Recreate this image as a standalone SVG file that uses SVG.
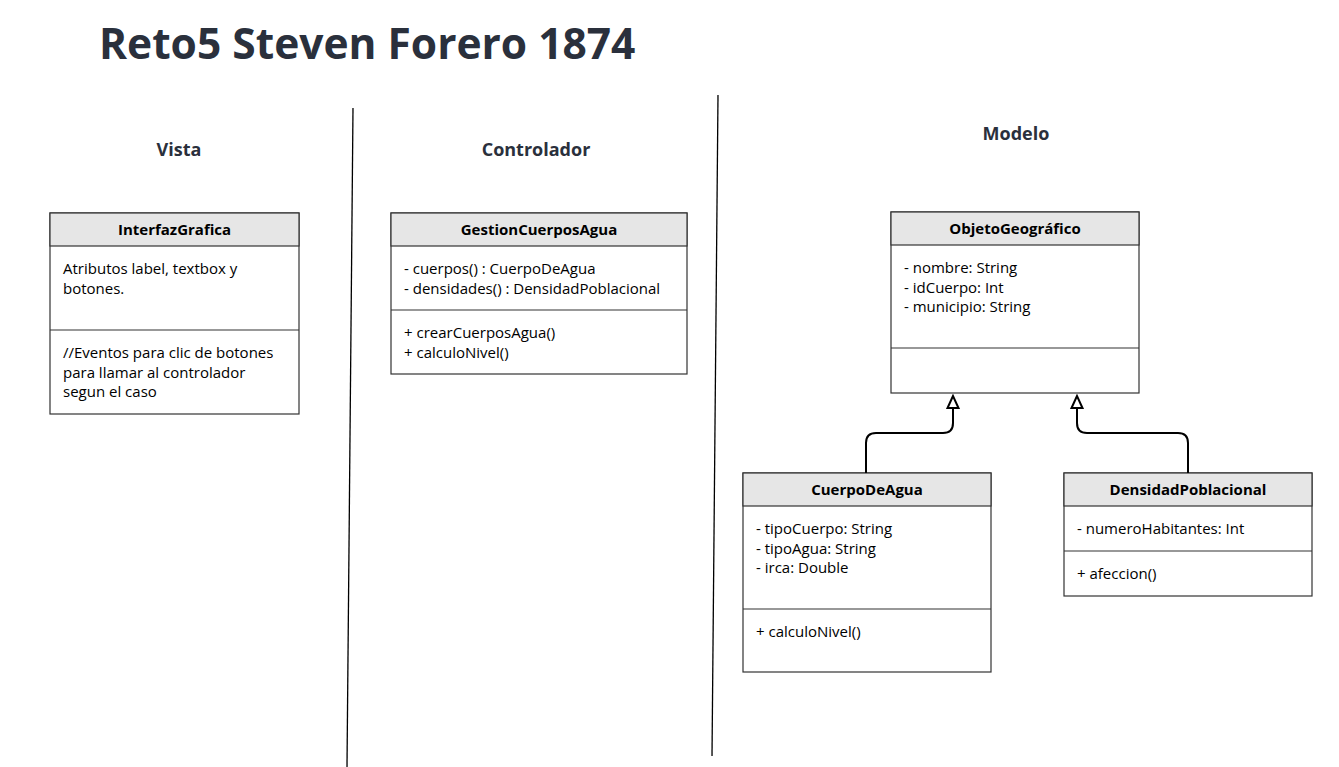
<svg xmlns="http://www.w3.org/2000/svg" width="1339" height="767" viewBox="0 0 1339 767">
<defs>
<style>
.box{fill:#ffffff;stroke:#333333;stroke-width:1.2}
.hdr{fill:#e6e6e6;stroke:#333333;stroke-width:1.2}
.div{stroke:#333333;stroke-width:1.2}
.h{font-family:"Open Sans","Liberation Sans",sans-serif;font-size:15px;font-weight:bold;fill:#000000;text-anchor:middle}
.t{font-family:"Open Sans","Liberation Sans",sans-serif;font-size:15px;fill:#000000}
.sec{font-family:"Open Sans","Liberation Sans",sans-serif;font-size:18px;font-weight:bold;fill:#2a303c;text-anchor:middle}
.title{font-family:"Open Sans","Liberation Sans",sans-serif;font-size:42.5px;font-weight:bold;fill:#2a303c}
.sep{stroke:#000000;stroke-width:1.3}
.conn{fill:none;stroke:#000000;stroke-width:2}
</style>
<marker id="inh" markerWidth="16" markerHeight="16" viewBox="0 0 16 16" refX="14" refY="8" orient="auto" markerUnits="userSpaceOnUse">
<path d="M14,8 L2,2.5 L2,13.5 Z" fill="#ffffff" stroke="#000000" stroke-width="2"/>
</marker>
</defs>
<rect width="1339" height="767" fill="#ffffff"/>
<text class="title" x="99" y="59">Reto5 Steven Forero 1874</text>
<line class="sep" x1="353" y1="108" x2="347" y2="767"/>
<line class="sep" x1="718" y1="95" x2="712" y2="756"/>
<text class="sec" x="179" y="156">Vista</text>
<text class="sec" x="536" y="156">Controlador</text>
<text class="sec" x="1016" y="140">Modelo</text>

<g id="InterfazGrafica">
<rect class="box" x="50" y="213" width="249" height="201"/>
<rect class="hdr" x="50" y="213" width="249" height="33"/>
<line class="div" x1="50" y1="330" x2="299" y2="330"/>
<text class="h" x="174.5" y="235">InterfazGrafica</text>
<text class="t" x="63" y="274">Atributos label, textbox y</text>
<text class="t" x="63" y="294">botones.</text>
<text class="t" x="63" y="358">//Eventos para clic de botones</text>
<text class="t" x="63" y="378">para llamar al controlador</text>
<text class="t" x="63" y="397">segun el caso</text>
</g>

<g id="GestionCuerposAgua">
<rect class="box" x="391" y="213" width="296" height="161"/>
<rect class="hdr" x="391" y="213" width="296" height="33"/>
<line class="div" x1="391" y1="310" x2="687" y2="310"/>
<text class="h" x="539" y="235">GestionCuerposAgua</text>
<text class="t" x="404" y="274">- cuerpos() : CuerpoDeAgua</text>
<text class="t" x="404" y="294">- densidades() : DensidadPoblacional</text>
<text class="t" x="404" y="338">+ crearCuerposAgua()</text>
<text class="t" x="404" y="358">+ calculoNivel()</text>
</g>

<g id="ObjetoGeografico">
<rect class="box" x="891" y="212" width="248" height="181"/>
<rect class="hdr" x="891" y="212" width="248" height="33"/>
<line class="div" x1="891" y1="348" x2="1139" y2="348"/>
<text class="h" x="1015" y="234">ObjetoGeográfico</text>
<text class="t" x="904" y="273">- nombre: String</text>
<text class="t" x="904" y="293">- idCuerpo: Int</text>
<text class="t" x="904" y="312">- municipio: String</text>
</g>

<g id="CuerpoDeAgua">
<rect class="box" x="743" y="473" width="248" height="199"/>
<rect class="hdr" x="743" y="473" width="248" height="33"/>
<line class="div" x1="743" y1="609" x2="991" y2="609"/>
<text class="h" x="867" y="495">CuerpoDeAgua</text>
<text class="t" x="756" y="534">- tipoCuerpo: String</text>
<text class="t" x="756" y="554">- tipoAgua: String</text>
<text class="t" x="756" y="573">- irca: Double</text>
<text class="t" x="756" y="637">+ calculoNivel()</text>
</g>

<g id="DensidadPoblacional">
<rect class="box" x="1064" y="473" width="248" height="123"/>
<rect class="hdr" x="1064" y="473" width="248" height="33"/>
<line class="div" x1="1064" y1="551" x2="1312" y2="551"/>
<text class="h" x="1188" y="495">DensidadPoblacional</text>
<text class="t" x="1077" y="534">- numeroHabitantes: Int</text>
<text class="t" x="1077" y="579">+ afeccion()</text>
</g>

<g id="connectors">
<path class="conn" d="M866,473 L866,443 Q866,433 876,433 L943,433 Q953,433 953,423 L953,396" marker-end="url(#inh)"/>
<path class="conn" d="M1188,473 L1188,443 Q1188,433 1178,433 L1087,433 Q1077,433 1077,423 L1077,396" marker-end="url(#inh)"/>
</g>
</svg>
